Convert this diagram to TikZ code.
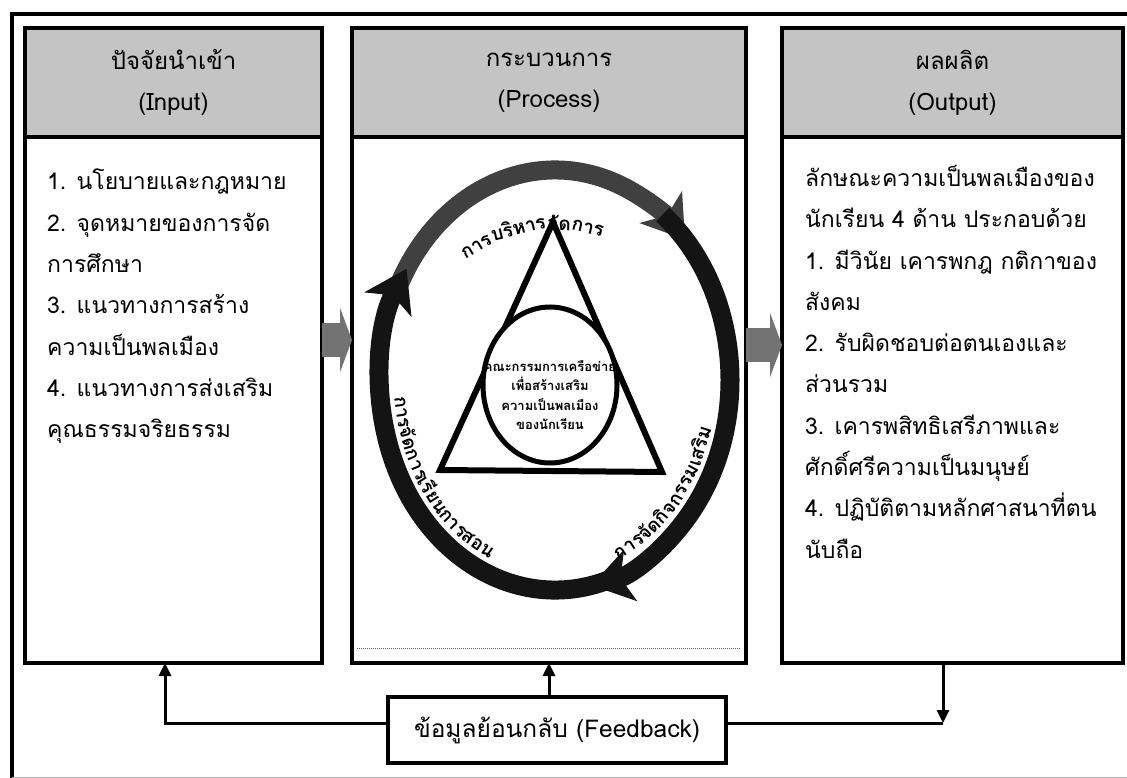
\documentclass[tikz,border=0pt]{standalone}
\usepackage{fontspec}
\setmainfont[Script=Thai]{Loma}
\usetikzlibrary{arrows.meta, positioning, shapes.geometric}

\newdimen\arcw
\newcommand\arcfont{\bfseries\fontsize{19}{23}\selectfont}
% short pieces of a label, one after another along an ellipse
\newcommand\arclabel[5]{%
  \xdef\arcprev{#1}%
  \foreach \piece in {#5} {%
    \settowidth\arcw{\pgfinterruptpicture\arcfont\piece\endpgfinterruptpicture}%
    \pgfmathsetmacro\spd{100*sqrt((#3/100*sin(\arcprev))^2+(#4/100*cos(\arcprev))^2)}%
    \pgfmathsetmacro\mida{\arcprev+(#2)*(\the\arcw/2)/\spd*57.2958}%
    \pgfmathsetmacro\nexta{\arcprev+(#2)*\the\arcw/\spd*57.2958}%
    \pgfmathsetmacro\rot{atan2((#2)*#4*cos(\mida),-(#2)*#3*sin(\mida))}%
    \node[arcpiece, rotate=\rot] at (\mida:#3pt and #4pt) {\piece};
    \xdef\arcprev{\nexta}%
  }}

\begin{document}
\begin{tikzpicture}[x=1pt, y=-1pt,
    colhead/.style={draw, line width=4pt, fill=black!23, align=center, minimum height=109pt, outer sep=0pt, font=\fontsize{24}{41}\selectfont},
    colbody/.style={draw, line width=4pt, fill=white, minimum height=526pt, outer sep=0pt},
    listtext/.style={align=left, inner sep=0pt, anchor=north west, font=\fontsize{23}{41.3}\selectfont},
    bigarrow/.style={line width=34pt, draw=black!55, -{Triangle[length=12pt, width=64pt]}},
    fbbox/.style={draw, line width=3.5pt, fill=white, minimum width=338pt, minimum height=66pt, outer sep=0pt, font=\fontsize{24.5}{28}\selectfont},
    fbarrow/.style={line width=3pt, -{Triangle[length=13pt, width=12pt]}},
    ring/.style={line width=19pt, -{Stealth[length=40pt, width=52pt, inset=10pt]}},
    hub/.style={ellipse, draw, line width=5pt, fill=white, minimum width=134pt, minimum height=156pt, inner sep=0pt},
    hubtext/.style={align=center, inner sep=0pt, font=\bfseries\fontsize{13}{19.5}\selectfont},
    arcpiece/.style={anchor=base, inner sep=0pt, font=\arcfont}
]
\useasboundingbox (0,0) rectangle (1127,778);

% outer frame
\draw[line width=4pt] (12,778) -- (12,14) -- (1127,14);
\draw[black!30, line width=1pt] (12,777) -- (1127,777);

% three columns
\node[colhead, minimum width=297pt] (inhead) at (173.5,82.5) {ปัจจัยนำเข้า\\(Input)};
\node[colhead, minimum width=394pt, right=30pt of inhead] (prochead) {กระบวนการ\\(Process)};
\node[colhead, minimum width=341pt, right=36pt of prochead] (outhead) {ผลผลิต\\(Output)};

\node[colbody, minimum width=297pt, below=0pt of inhead] (inbody) {};
\node[colbody, minimum width=394pt, below=0pt of prochead] (procbody) {};
\node[colbody, minimum width=341pt, below=0pt of outhead] (outbody) {};
\draw[densely dotted, black!60, line width=1pt] ([xshift=5pt,yshift=15pt]procbody.south west) -- ([xshift=-5pt,yshift=15pt]procbody.south east);

\node[listtext] (inlist) at ([xshift=22pt,yshift=-32pt]inbody.north west) {1. นโยบายและกฎหมาย\\
2. จุดหมายของการจัด\\
การศึกษา\\
3. แนวทางการสร้าง\\
ความเป็นพลเมือง\\
4. แนวทางการส่งเสริม\\
คุณธรรมจริยธรรม};

\node[listtext] (outlist) at ([xshift=23pt,yshift=-28pt]outbody.north west) {ลักษณะความเป็นพลเมืองของ\\
นักเรียน 4 ด้าน ประกอบด้วย\\
1. มีวินัย เคารพกฎ กติกาของ\\
สังคม\\
2. รับผิดชอบต่อตนเองและ\\
ส่วนรวม\\
3. เคารพสิทธิเสรีภาพและ\\
ศักดิ์ศรีความเป็นมนุษย์\\
4. ปฏิบัติตามหลักศาสนาที่ตน\\
นับถือ};

\draw[bigarrow] ([yshift=60pt]inbody.east) -- ([yshift=60pt]procbody.west);
\draw[bigarrow] ([yshift=55pt]procbody.east) -- ([yshift=55pt]outbody.west);

% process cycle
\begin{scope}[shift={(555,380)}]
\draw[ring, draw=black!75] (158:175pt and 210pt) arc[start angle=158, end angle=42, x radius=175pt, y radius=210pt];
\draw[ring, draw=black!92] (52:175pt and 210pt) arc[start angle=52, end angle=-78, x radius=175pt, y radius=210pt];
\draw[ring, draw=black!92] (-68:175pt and 210pt) arc[start angle=-68, end angle=-212, x radius=175pt, y radius=210pt];
\arclabel{127}{-1}{148}{150}{การ,บริหาร,จัด,การ}
\arclabel{185}{1}{161}{195}{การ,จัด,การ,เรียน,การ,สอน}
\arclabel{293}{1}{161}{195}{การ,จัด,กิจ,กรรม,เสริม}
\end{scope}

\draw[line width=6pt] (553,222) -- (440,470) -- (662,472) -- cycle;
\node[hub] (hub) at (550,385) {};
\node[hubtext] (hubtxt) at ([yshift=-10pt]hub.center) {คณะกรรมการเครือข่าย\\เพื่อสร้างเสริม\\ความเป็นพลเมือง\\ของนักเรียน};

% feedback
\node[fbbox] (feedback) at (557,730) {ข้อมูลย้อนกลับ (Feedback)};
\coordinate (fbleft) at (165,723);
\coordinate (fbright) at (943,723);
\draw[fbarrow] (feedback.west |- fbleft) -- (fbleft) -- (inbody.south -| fbleft);
\draw[fbarrow] (feedback.north -| procbody.south) -- (procbody.south);
\draw[fbarrow] (outbody.south -| fbright) -- (fbright);
\draw[line width=3pt] (fbright) -- (feedback.east |- fbright);
\end{tikzpicture}
\end{document}
